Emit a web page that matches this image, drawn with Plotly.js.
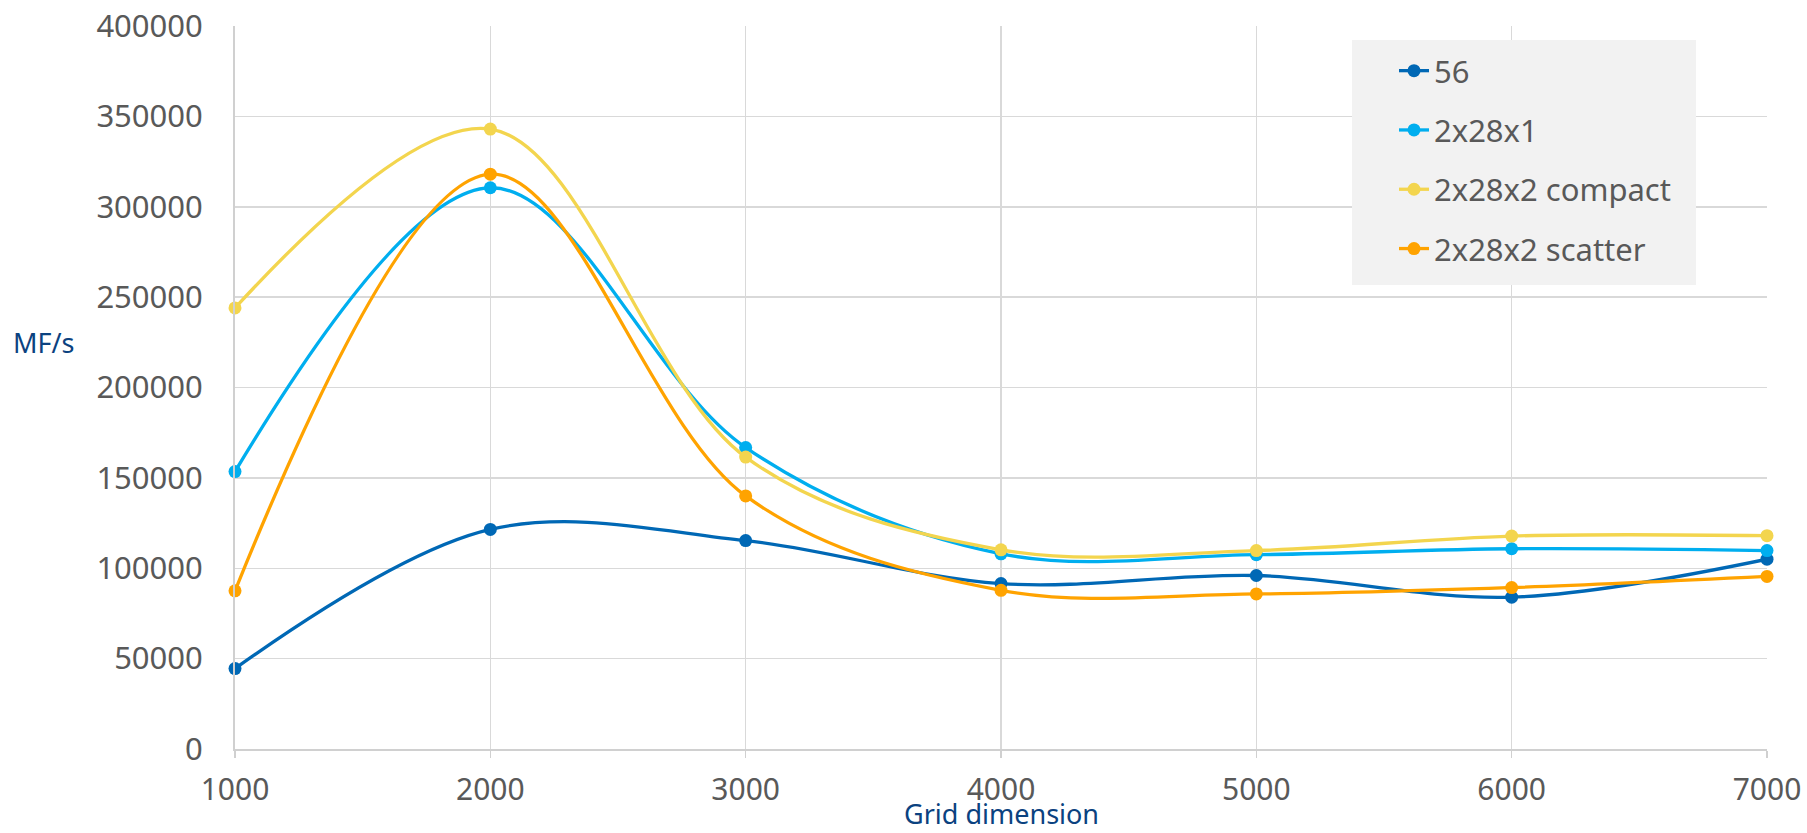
<!DOCTYPE html>
<html>
<head>
<meta charset="utf-8">
<script src="https://cdn.plot.ly/plotly-3.0.1.min.js"></script>
<style>html,body{margin:0;padding:0;background:#fff;}#chart{width:1807px;height:833px;}</style>
</head>
<body>
<div id="chart"></div>
<script>
const gridDims = [1000, 2000, 3000, 4000, 5000, 6000, 7000];
const seriesNames = ["56", "2x28x1", "2x28x2 compact", "2x28x2 scatter"];
const s56 = [44500, 121500, 115300, 91500, 96000, 84000, 105000];
const s2x28x1 = [153500, 310500, 166800, 108000, 107500, 110800, 109800];
const s2x28x2compact = [244000, 343000, 161500, 110200, 109800, 117800, 118000];
const s2x28x2scatter = [87500, 318000, 140000, 87800, 85800, 89300, 95500];
const seriesValues = [s56, s2x28x1, s2x28x2compact, s2x28x2scatter];
const colors = ["#0068b5", "#00aeef", "#f3d54e", "#ffa300"];

const traces = seriesNames.map((name, i) => ({
  type: "scatter",
  mode: "lines+markers",
  name: name,
  x: gridDims,
  y: seriesValues[i],
  legendgroup: "g" + i,
  line: {color: colors[i], width: 3.3, shape: "spline", smoothing: 1},
  marker: {color: colors[i], size: 13},
  cliponaxis: false
}));

const W = 1807, H = 833, ML = 235, MR = 40, MT = 26, MB = 84;
const PW = W - ML - MR, PH = H - MT - MB;
const px2x = p => (p - ML) / PW;
const px2y = p => (H - MB - p) / PH;

const tickFont = {family: "Noto Sans, Open Sans, sans-serif", size: 30, color: "#595959"};
const titleFont = {family: "Noto Sans, Open Sans, sans-serif", size: 27, color: "#0b4280"};

const layout = {
  width: W, height: H,
  margin: {l: ML, r: MR, t: MT, b: MB},
  paper_bgcolor: "#ffffff",
  plot_bgcolor: "#ffffff",
  showlegend: true,
  legend: {
    x: px2x(1394), y: px2y(44), xanchor: "left", yanchor: "top",
    bgcolor: "rgba(0,0,0,0)", borderwidth: 0,
    font: {family: "Noto Sans, Open Sans, sans-serif", size: 31, color: "#595959"},
    tracegroupgap: 16,
    traceorder: "grouped"
  },
  shapes: [{
    type: "rect", xref: "paper", yref: "paper", layer: "above",
    x0: px2x(1352), x1: px2x(1696), y0: px2y(285), y1: px2y(40),
    fillcolor: "#f2f2f2", line: {width: 0}
  }],
  xaxis: {
    range: [1000, 7000],
    tickvals: gridDims,
    ticktext: gridDims.map(String),
    showgrid: true, gridcolor: "#d9d9d9", gridwidth: 1.5,
    showline: true, linecolor: "#d0d0d0", linewidth: 2,
    ticks: "outside", ticklen: 7, tickcolor: "#d0d0d0", tickwidth: 1.5,
    ticklabelstandoff: 6,
    zeroline: false,
    tickfont: tickFont,
    title: {text: ""},
    automargin: false
  },
  yaxis: {
    range: [0, 400000],
    dtick: 50000, tick0: 0,
    tickformat: "d",
    showgrid: true, gridcolor: "#d9d9d9", gridwidth: 1.5,
    showline: true, linecolor: "#d0d0d0", linewidth: 2,
    ticks: "",
    ticklabelstandoff: 24,
    zeroline: false,
    tickfont: {family: "Noto Sans, Open Sans, sans-serif", size: 31, color: "#595959"},
    automargin: false
  },
  annotations: [{
    text: "MF/s", xref: "paper", yref: "paper",
    x: px2x(43), y: px2y(342), xanchor: "center", yanchor: "middle",
    showarrow: false, font: titleFont
  }, {
    text: "Grid dimension", xref: "paper", yref: "paper",
    x: 0.5, y: px2y(833), xanchor: "center", yanchor: "bottom",
    showarrow: false, font: titleFont, borderpad: 0
  }]
};

Plotly.newPlot("chart", traces, layout, {displayModeBar: false, staticPlot: true});
</script>
</body>
</html>
